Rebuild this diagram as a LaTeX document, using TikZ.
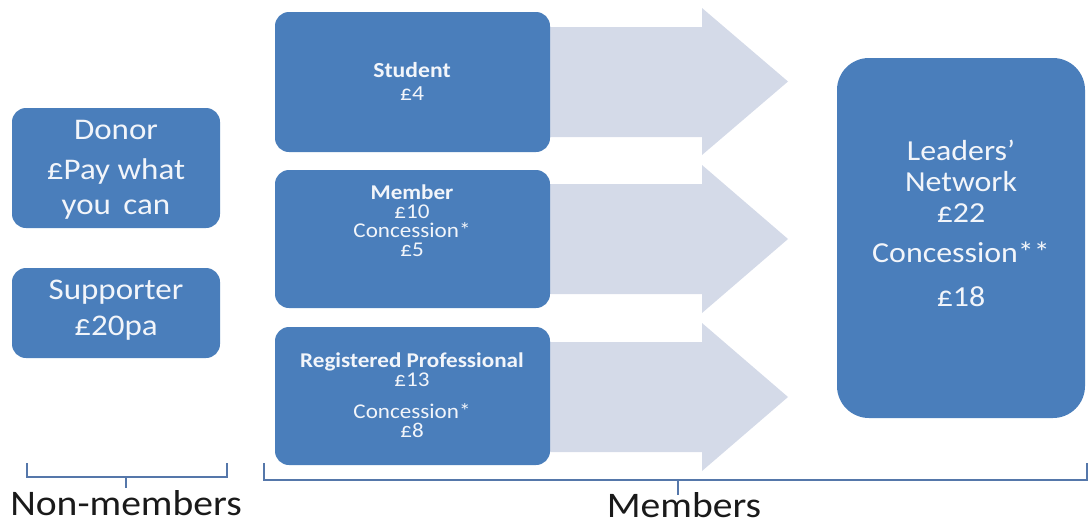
\documentclass[tikz,border=0pt]{standalone}
\usepackage{fontspec}
\setmainfont{Carlito}[FakeStretch=1.1]
\definecolor{boxblue}{HTML}{4A7EBB}
\definecolor{arrowgray}{HTML}{D4DAE8}
\definecolor{bracecol}{HTML}{5577AA}
\definecolor{boxtext}{HTML}{F2F5FA}
\definecolor{lbltext}{HTML}{1A1A1A}
\begin{document}
\begin{tikzpicture}[x=1pt,y=-1pt,
  box/.style={fill=boxblue, draw=none, rounded corners=14pt, inner sep=0pt},
  txt/.style={text=boxtext, align=center, inner sep=0pt},
  arrowshape/.style={fill=arrowgray, draw=none},
  brace/.style={draw=bracecol, line width=1.6pt},
  lbl/.style={text=lbltext, inner sep=0pt, font=\fontsize{36}{40}\selectfont}]
\useasboundingbox (0,0) rectangle (1092,528);
% arrows (behind boxes)
\fill[arrowshape] (540,27) -- (702,27) -- (702,8) -- (788,81.5) -- (702,155) -- (702,137) -- (540,137) -- cycle;
\fill[arrowshape] (540,184) -- (702,184) -- (702,165) -- (788,239) -- (702,313) -- (702,294) -- (540,294) -- cycle;
\fill[arrowshape] (540,342) -- (702,342) -- (702,323) -- (788,397) -- (702,471) -- (702,452) -- (540,452) -- cycle;
% boxes
\node[box, minimum width=208pt, minimum height=120pt] (donor) at (116,168) {};
\node[box, minimum width=208pt, minimum height=90pt] (supporter) at (116,313) {};
\node[box, minimum width=275pt, minimum height=140pt] (student) at (412.5,82) {};
\node[box, minimum width=275pt, minimum height=138pt] (member) at (412.5,239) {};
\node[box, minimum width=275pt, minimum height=138pt] (regprof) at (412.5,396) {};
\node[box, rounded corners=32pt, minimum width=248pt, minimum height=360pt] (leaders) at (961,238) {};
% texts
\node[txt, font=\fontsize{30}{40}\selectfont] (donortxt) at (116,170) {Donor\\£Pay what\\[-5pt]you\, can};
\node[txt, font=\fontsize{30}{36}\selectfont] (suptxt) at (116,310) {Supporter\\£20pa};
\node[txt, font=\fontsize{21.5}{23}\selectfont] (studtxt) at (412,81) {\textbf{Student}\\£4};
\node[txt, font=\fontsize{21}{19}\selectfont] (memtxt) at (412,221) {\textbf{Member}\\£10\\Concession*\\£5};
\node[txt, font=\fontsize{21}{19}\selectfont] (regtxt) at (412,395) {\textbf{Registered Professional}\\£13\\[13pt]Concession*\\£8};
\node[txt, font=\fontsize{29}{31}\selectfont] (leadtxt) at (961,223) {Leaders’\\Network\\£22\\[9pt]Concession**\\[13pt]£18};
% braces
\coordinate (nmtick) at (126,488);
\coordinate (mmtick) at (678,495);
\draw[brace] (27,463) -- (27,477) -- (227,477) -- (227,463);
\draw[brace] (126,477) -- (nmtick);
\draw[brace] (264,463) -- (264,480) -- (1087,480) -- (1087,463);
\draw[brace] (678,480) -- (mmtick);
% labels
\node[lbl] (nonmembers) at (126,503) {Non-members};
\node[lbl] (members) at (684,505) {Members};
\end{tikzpicture}
\end{document}
